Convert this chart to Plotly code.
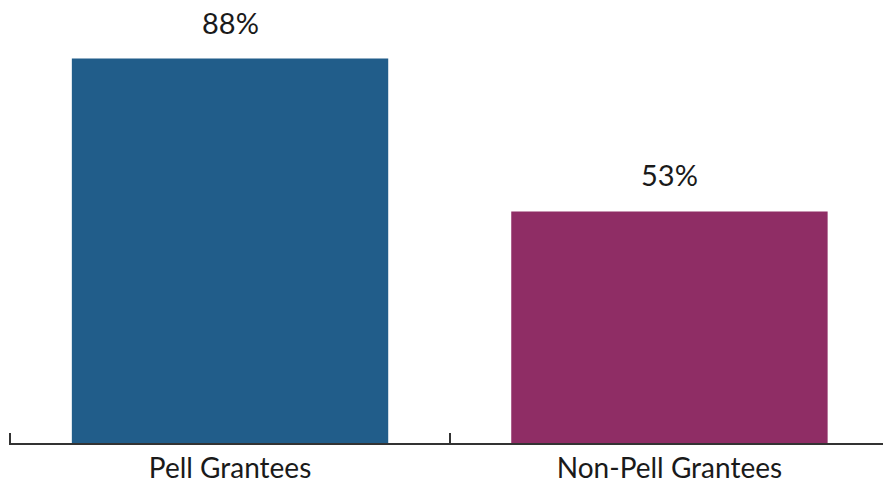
import plotly.graph_objects as go

categories = ["Pell Grantees", "Non-Pell Grantees"]
values = [88, 53]
labels = ["88%", "53%"]
colors = ["#215D8A", "#8F2D65"]

fig = go.Figure()
fig.add_trace(go.Bar(
    x=categories, y=values, marker_color=colors, width=0.72,
    marker_line_width=0, hoverinfo="skip",
))
for c, v, t in zip(categories, values, labels):
    fig.add_annotation(x=c, y=v, text=t, showarrow=False, yanchor="bottom",
                       yshift=17, font=dict(family="Lato", size=29, color="#1a1a1a"))

fig.update_layout(
    width=883, height=487,
    margin=dict(l=9, r=0, t=0, b=44),
    paper_bgcolor="white", plot_bgcolor="white",
    showlegend=False,
    font=dict(family="Lato", size=29, color="#1a1a1a"),
    xaxis=dict(range=[-0.503, 1.486], showline=True, linecolor="#333333", linewidth=1.5,
               ticks="inside", tickson="boundaries", ticklen=10, tickwidth=1.5,
               tickcolor="#333333", showgrid=False, zeroline=False,
               ticklabelstandoff=0, automargin=False,
               tickfont=dict(family="Lato", size=28, color="#1a1a1a")),
    yaxis=dict(range=[0, 101.4], visible=False, showgrid=False, zeroline=False,
               automargin=False),
)
fig.write_html("out.html")
